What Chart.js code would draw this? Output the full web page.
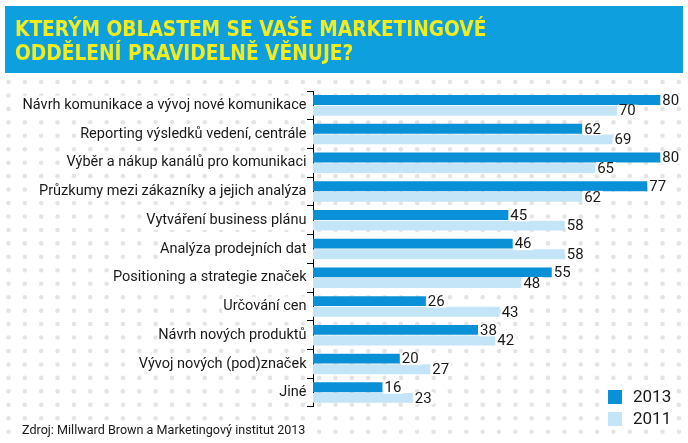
<!DOCTYPE html>
<html><head><meta charset="utf-8">
<script src="https://cdn.jsdelivr.net/npm/chart.js@4"></script>
<style>html,body{margin:0;padding:0;background:#fff}#c{display:block}</style>
</head><body>
<canvas id="c" width="688" height="443"></canvas>
<script>
const titleLines = ['KTERÝM OBLASTEM SE VAŠE MARKETINGOVÉ', 'ODDĚLENÍ PRAVIDELNĚ VĚNUJE?'];
const sourceText = 'Zdroj: Millward Brown a Marketingový institut 2013';
const categories = [
  'Návrh komunikace a vývoj nové komunikace',
  'Reporting výsledků vedení, centrále',
  'Výběr a nákup kanálů pro komunikaci',
  'Průzkumy mezi zákazníky a jejich analýza',
  'Vytváření business plánu',
  'Analýza prodejních dat',
  'Positioning a strategie značek',
  'Určování cen',
  'Návrh nových produktů',
  'Vývoj nových (pod)značek',
  'Jiné'
];
const values2013 = [80, 62, 80, 77, 45, 46, 55, 26, 38, 20, 16];
const values2011 = [70, 69, 65, 62, 58, 58, 48, 43, 42, 27, 23];
const seriesLabels = ['2013', '2011'];

const BAND = '#0e9fdf', DARK = '#0a90d6', LIGHT = '#c4e5f7', YELLOW = '#f2ec1f', DOT = '#e4e4e4';
const LABEL_FONT = '15px Roboto';
const SOURCE_FONT = '12.6px Roboto';

const backgroundPlugin = {
  id: 'bg',
  afterLayout(chart) {
    const sub = chart.boxes.find(b => b.position === 'bottom' && b.options && b.options.text === sourceText);
    if (sub) { sub.left += 7; sub.right += 7; }
  },
  beforeDraw(chart) {
    const ctx = chart.ctx;
    ctx.save();
    ctx.fillStyle = '#fff';
    ctx.fillRect(0, 0, chart.width, chart.height);
    ctx.fillStyle = DOT;
    for (let y = 82; y < chart.height; y += 13.45) {
      for (let x = 8.5; x < chart.width; x += 16.35) {
        ctx.beginPath(); ctx.arc(x, y, 2.3, 0, Math.PI * 2); ctx.fill();
      }
    }
    ctx.font = SOURCE_FONT;
    const w = ctx.measureText(sourceText).width;
    ctx.fillStyle = '#fff';
    ctx.fillRect(20, 423, w + 5, 16);
    ctx.fillStyle = BAND;
    ctx.fillRect(5, 6, 678, 67);
    ctx.restore();
  }
};

const valueLabelPlugin = {
  id: 'valueLabels',
  afterDatasetsDraw(chart) {
    const ctx = chart.ctx;
    ctx.save();
    ctx.font = LABEL_FONT;
    ctx.textBaseline = 'middle';
    ctx.textAlign = 'left';
    chart.data.datasets.forEach((ds, i) => {
      const meta = chart.getDatasetMeta(i);
      meta.data.forEach((el, j) => {
        const txt = String(ds.data[j]);
        const w = ctx.measureText(txt).width;
        ctx.fillStyle = '#fff';
        ctx.fillRect(el.x + 1, el.y - 6, w + 3, 12.5);
        ctx.fillStyle = '#1a1a1a';
        ctx.fillText(txt, el.x + 2, el.y + 1);
      });
    });
    ctx.restore();
  },
  afterDraw(chart) {
    const ctx = chart.ctx;
    ctx.save();
    ctx.font = '17px Roboto';
    ctx.textBaseline = 'middle';
    chart.data.datasets.forEach((ds, i) => {
      const y = 390 + i * 22;
      const w = ctx.measureText(ds.label).width;
      ctx.fillStyle = '#fff';
      ctx.fillRect(604, y - 3, 33 + w, 20);
      ctx.fillStyle = ds.backgroundColor;
      ctx.fillRect(608, y, 14, 14);
      ctx.fillStyle = '#1a1a1a';
      ctx.fillText(ds.label, 633, y + 7.5);
    });
    ctx.restore();
  }
};

new Chart(document.getElementById('c'), {
  type: 'bar',
  data: {
    labels: categories,
    datasets: [
      { label: seriesLabels[0], data: values2013, backgroundColor: DARK, categoryPercentage: 0.74, barPercentage: 0.93 },
      { label: seriesLabels[1], data: values2011, backgroundColor: LIGHT, categoryPercentage: 0.74, barPercentage: 0.93 }
    ]
  },
  options: {
    indexAxis: 'y',
    responsive: false,
    animation: false,
    layout: { padding: { left: 15, right: 6, top: 0, bottom: 0 } },
    scales: {
      x: { display: false, min: 0, max: 85 },
      y: {
        afterFit(scale) { scale.width = 298; },
        border: { display: true, color: '#000', width: 1 },
        grid: { display: true, drawOnChartArea: false, drawTicks: true, tickLength: 6, color: '#000', offset: true },
        ticks: {
          color: '#1a1a1a', font: { family: 'Roboto', size: 14.5 }, padding: 0.5,
          showLabelBackdrop: true, backdropColor: '#fff', backdropPadding: 1
        }
      }
    },
    plugins: {
      legend: { display: false },
      tooltip: { enabled: false },
      title: {
        display: true, text: titleLines, align: 'start', color: YELLOW,
        font: { family: '"DejaVu Sans Condensed", "DejaVu Sans"', weight: 'bold', size: 20.7, lineHeight: 1.15 },
        padding: { top: 19, bottom: 24.4 }
      },
      subtitle: {
        display: true, text: sourceText, position: 'bottom', align: 'start', color: '#1a1a1a',
        font: { family: 'Roboto', size: 12.6, lineHeight: 1.2 },
        padding: { top: 16.2, bottom: 4.7 }
      }
    }
  },
  plugins: [backgroundPlugin, valueLabelPlugin]
});
</script>
</body></html>
